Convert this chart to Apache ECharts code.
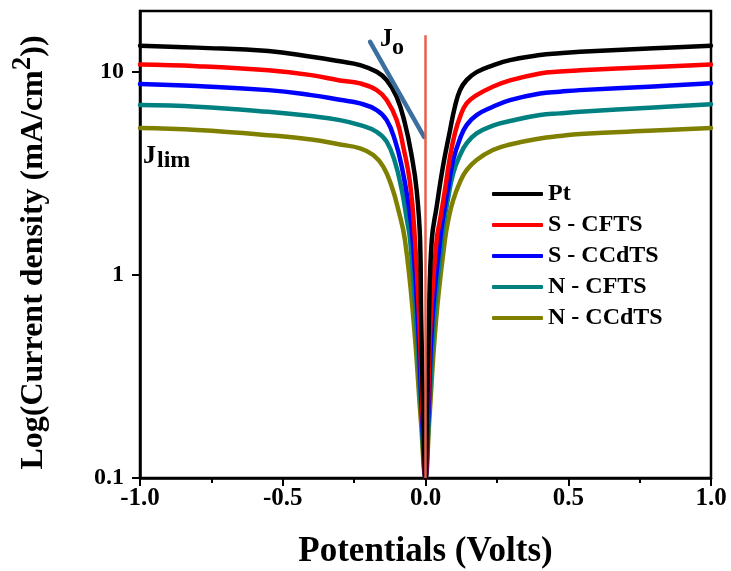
<!DOCTYPE html>
<html>
<head>
<meta charset="utf-8">
<script src="https://cdn.jsdelivr.net/npm/echarts@6/dist/echarts.min.js"></script>
<style>
html,body{margin:0;padding:0;background:#fff;}
#c{width:731px;height:571px;}
</style>
</head>
<body>
<div id="c"></div>
<script>
// ---- data ----
const seriesNames = ['Pt', 'S - CFTS', 'S - CCdTS', 'N - CFTS', 'N - CCdTS'];
const xTickLabels = ['-1.0', '-0.5', '0.0', '0.5', '1.0'];
const yTickValues = [0.1, 1, 10];

const ptData = [[-1,13.5],[-0.8,13.2],[-0.55,12.7],[-0.4,11.9],[-0.3,11.3],[-0.229,10.83],[-0.171,10.03],[-0.136,9.13],[-0.101,7.55],[-0.072,5.58],[-0.048,3.83],[-0.031,2.62],[-0.019,1.49],[-0.015,0.6],[-0.007,0.19],[0,0.1],
  [0.005,0.19],[0.012,0.6],[0.022,1.49],[0.039,2.17],[0.061,3.42],[0.086,5.18],[0.103,6.75],[0.121,8.15],[0.144,9.13],[0.179,10.0],[0.236,10.8],[0.296,11.46],[0.401,12.13],[0.47,12.38],[0.541,12.6],[0.8,13.1],[1,13.5]];
const sCftsData = [[-1,10.9],[-0.8,10.7],[-0.55,10.2],[-0.4,9.66],[-0.3,9.1],[-0.229,8.8],[-0.171,8.15],[-0.136,7.28],[-0.101,5.8],[-0.078,4.29],[-0.054,2.83],[-0.037,1.49],[-0.022,0.6],[-0.009,0.19],[0,0.1],
  [0.007,0.19],[0.018,0.6],[0.039,1.49],[0.051,1.87],[0.068,2.62],[0.086,3.83],[0.103,4.99],[0.121,6.02],[0.144,7.01],[0.179,7.7],[0.236,8.47],[0.296,9.1],[0.401,9.85],[0.47,10.06],[0.541,10.2],[0.8,10.6],[1,10.9]];
const sCcdtsData = [[-1,8.73],[-0.8,8.53],[-0.55,8.15],[-0.4,7.7],[-0.3,7.3],[-0.229,7.01],[-0.171,6.5],[-0.136,5.8],[-0.107,4.62],[-0.083,3.42],[-0.06,2.25],[-0.045,1.49],[-0.027,0.6],[-0.011,0.19],[0,0.1],
  [0.009,0.19],[0.024,0.6],[0.051,1.49],[0.062,1.94],[0.08,2.72],[0.097,3.69],[0.121,4.71],[0.144,5.48],[0.179,6.14],[0.236,6.75],[0.296,7.28],[0.401,7.85],[0.47,8.0],[0.541,8.15],[0.8,8.5],[1,8.8]];
const nCftsData = [[-1,6.88],[-0.8,6.75],[-0.55,6.37],[-0.4,6.07],[-0.3,5.8],[-0.229,5.48],[-0.171,5.08],[-0.136,4.54],[-0.107,3.61],[-0.083,2.62],[-0.066,1.9],[-0.054,1.49],[-0.033,0.6],[-0.013,0.19],[0,0.1],
  [0.011,0.19],[0.03,0.6],[0.057,1.49],[0.062,1.73],[0.08,2.43],[0.097,3.17],[0.121,3.9],[0.144,4.45],[0.179,4.99],[0.236,5.45],[0.296,5.74],[0.401,6.14],[0.47,6.26],[0.541,6.37],[0.8,6.7],[1,6.95]];
const nCcdtsData = [[-1,5.3],[-0.8,5.18],[-0.55,4.89],[-0.4,4.66],[-0.3,4.4],[-0.229,4.21],[-0.183,3.9],[-0.148,3.42],[-0.118,2.72],[-0.095,2.09],[-0.072,1.49],[-0.042,0.6],[-0.016,0.19],[0,0.1],
  [0.013,0.19],[0.037,0.6],[0.068,1.49],[0.08,1.87],[0.097,2.34],[0.121,2.88],[0.144,3.29],[0.179,3.69],[0.236,4.13],[0.296,4.4],[0.401,4.71],[0.47,4.84],[0.541,4.95],[0.8,5.15],[1,5.3]];
const joLine = [[-0.194, 14.1], [-0.005, 4.8]];
const zeroLine = [[0, 0.1], [0, 15.2]];

const seriesData = [ptData, sCftsData, sCcdtsData, nCftsData, nCcdtsData];
const seriesColors = ['#000000', '#ff0000', '#0000ff', '#008080', '#808000'];

// ---- chart ----
const FONT = 'Liberation Serif';
const chart = echarts.init(document.getElementById('c'));

const curves = seriesNames.map((name, i) => ({
  name: name,
  type: 'line',
  data: seriesData[i],
  symbol: 'none',
  showSymbol: false,
  smooth: 0.45,
  lineStyle: { color: seriesColors[i], width: 4.5, cap: 'round', join: 'round' },
  itemStyle: { color: seriesColors[i] },
  z: 10 - i,
  silent: true
})).reverse();

chart.setOption({
  animation: false,
  backgroundColor: '#fff',
  grid: { left: 140, right: 20, top: 11, bottom: 93, outerBoundsMode: 'none', containLabel: false, show: true, borderColor: '#000', borderWidth: 2.5, backgroundColor: 'transparent' },
  legend: {
    data: seriesNames,
    orient: 'vertical',
    left: 487,
    top: 177,
    itemWidth: 51,
    itemHeight: 4,
    itemGap: 7,
    icon: 'roundRect',
    textStyle: { fontSize: 24, fontWeight: 'bold', fontFamily: FONT, color: '#000', lineHeight: 24 }
  },
  xAxis: {
    type: 'value',
    min: -1, max: 1, interval: 0.5,
    axisLine: { show: true, onZero: false, lineStyle: { color: '#000', width: 2.5 } },
    axisTick: { show: true, length: 8, lineStyle: { color: '#000', width: 2 } },
    minorTick: { show: true, splitNumber: 2, length: 5, lineStyle: { color: '#000', width: 2 } },
    splitLine: { show: false },
    minorSplitLine: { show: false },
    axisLabel: {
      fontSize: 25, fontWeight: 'bold', fontFamily: FONT, color: '#000', margin: 8,
      formatter: v => xTickLabels[Math.round((v + 1) / 0.5)]
    },
    name: 'Potentials (Volts)',
    nameLocation: 'middle',
    nameGap: 56,
    nameTextStyle: { fontSize: 35, fontWeight: 'bold', fontFamily: FONT, color: '#000' }
  },
  yAxis: {
    type: 'log',
    logBase: 10,
    min: 0.1, max: 20,
    axisLine: { show: true, onZero: false, lineStyle: { color: '#000', width: 2.5 } },
    axisTick: { show: true, length: 8, customValues: yTickValues, lineStyle: { color: '#000', width: 2 } },
    minorTick: { show: false },
    splitLine: { show: false },
    axisLabel: {
      customValues: yTickValues,
      fontSize: 24, fontWeight: 'bold', fontFamily: FONT, color: '#000', margin: 16,
      formatter: v => (v < 1 ? v.toFixed(1) : String(Math.round(v)))
    },
    name: '{a|Log(Current density (mA/cm}{s|2}{a|))}',
    nameLocation: 'middle',
    nameGap: 90,
    nameTextStyle: {
      color: '#000',
      padding: [0, 16, 0, 0],
      rich: {
        a: { fontSize: 32, fontWeight: 'bold', fontFamily: FONT, color: '#000', lineHeight: 32, verticalAlign: 'bottom' },
        s: { fontSize: 27, fontWeight: 'bold', fontFamily: FONT, color: '#000', lineHeight: 54, verticalAlign: 'middle' }
      }
    }
  },
  series: curves.concat([
    {
      name: 'Jo', type: 'line', data: joLine, symbol: 'none', silent: true, z: 20,
      lineStyle: { color: '#3b6fa0', width: 4.5, cap: 'round' }
    },
    {
      name: 'zero', type: 'line', data: zeroLine, symbol: 'none', silent: true, z: 21,
      lineStyle: { color: '#e8604c', width: 2.5 }
    }
  ]),
  graphic: [
    { type: 'text', left: 380, top: 27, z: 50, style: { text: 'J', font: 'bold 25px "Liberation Serif"', fill: '#000' } },
    { type: 'text', left: 392, top: 36, z: 50, style: { text: 'o', font: 'bold 24px "Liberation Serif"', fill: '#000' } },
    { type: 'text', left: 143, top: 143, z: 50, style: { text: 'J', font: 'bold 26px "Liberation Serif"', fill: '#000' } },
    { type: 'text', left: 157, top: 149, z: 50, style: { text: 'lim', font: 'bold 24px "Liberation Serif"', fill: '#000' } }
  ]
});
</script>
</body>
</html>
